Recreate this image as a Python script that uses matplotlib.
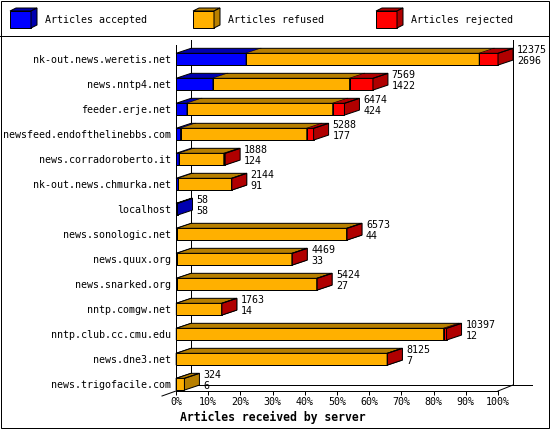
import numpy as np
import matplotlib
matplotlib.use('Agg')
import matplotlib.pyplot as plt
from matplotlib.patches import Polygon, Rectangle

plt.rcParams['font.family'] = ['DejaVu Sans Mono']

servers = ['nk-out.news.weretis.net', 'news.nntp4.net', 'feeder.erje.net',
           'newsfeed.endofthelinebbs.com', 'news.corradoroberto.it',
           'nk-out.news.chmurka.net', 'localhost', 'news.sonologic.net',
           'news.quux.org', 'news.snarked.org', 'nntp.comgw.net',
           'nntp.club.cc.cmu.edu', 'news.dne3.net', 'news.trigofacile.com']
accepted = [2696, 1422, 424, 177, 124, 91, 58, 44, 33, 27, 14, 12, 7, 6]
refused = [8959, 5250, 5600, 4851, 1714, 2045, 0, 6514, 4424, 5385, 1743, 10275, 8110, 318]
rejected = [720, 897, 450, 260, 50, 8, 0, 15, 12, 12, 6, 110, 8, 0]
x_ticks = [0, 10, 20, 30, 40, 50, 60, 70, 80, 90, 100]
legend_labels = ['Articles accepted', 'Articles refused', 'Articles rejected']

BLUE, BLUE_D = '#0000ff', '#0000b0'
ORANGE, ORANGE_D = '#ffb000', '#b88000'
RED, RED_D = '#ff0000', '#b00000'
LW = 0.72
FS = 7.2

# geometry of the fake 3d look (data units)
DX = 15 * 100 / 322   # depth offset along x
DY = 0.2              # depth offset along y
H = 0.47              # front face height
Y_BOT = 13.272
Y_TOP = -0.768

fig = plt.figure(figsize=(5.5, 4.3), dpi=100)

# pixel overlay for frame and legend
bg = fig.add_axes([0, 0, 1, 1])
bg.set_xlim(0, 550)
bg.set_ylim(430, 0)
bg.axis('off')
bg.add_patch(Rectangle((0.5, 0.5), 548.5, 427, fill=False, ec='black', lw=LW))
bg.plot([0, 550], [35.5, 35.5], color='black', lw=LW)

for x0, c, cd, lab in zip([10, 193, 376], [BLUE, ORANGE, RED],
                          [BLUE_D, ORANGE_D, RED_D], legend_labels):
    bg.add_patch(Rectangle((x0, 11), 21, 17, fc=c, ec='black', lw=LW))
    bg.add_patch(Polygon([(x0, 11), (x0 + 21, 11), (x0 + 27, 8), (x0 + 6, 8)],
                         fc=cd, ec='black', lw=LW))
    bg.add_patch(Polygon([(x0 + 21, 11), (x0 + 27, 8), (x0 + 27, 25), (x0 + 21, 28)],
                         fc=cd, ec='black', lw=LW))
    bg.text(x0 + 35, 20, lab, va='center', ha='left', fontsize=FS)

ax = fig.add_axes([176 / 550, 39 / 430, 322 / 550, 351 / 430])
ax.set_xlim(0, 100)
ax.set_ylim(Y_BOT, Y_TOP)
ax.patch.set_alpha(0)
for s in ax.spines.values():
    s.set_visible(False)

acc = np.array(accepted, dtype=float)
ref = np.array(refused, dtype=float)
rej = np.array(rejected, dtype=float)
totals = acc + ref + rej
scale = 100 / totals.max()
y = np.arange(len(servers))

# axis frame lines
line = dict(color='black', lw=LW, clip_on=False, zorder=1)
ax.plot([0, 0], [Y_BOT, -0.568], **line)
ax.plot([DX, DX], [Y_TOP, Y_BOT - 0.24], **line)
ax.plot([100 + DX, 100 + DX], [Y_TOP, Y_BOT - 0.24], **line)
ax.plot([0, 100], [Y_BOT, Y_BOT], **line)
ax.plot([DX, 100 + DX + 6], [Y_BOT - 0.24, Y_BOT - 0.24], **line)
ax.plot([100, 100 + DX], [Y_BOT, Y_BOT - 0.24], **line)
ax.plot([-14 * 100 / 322, 0], [Y_BOT + 0.2, Y_BOT], **line)

# stacked 3d bars
left = np.zeros(len(servers))
segments = [(acc, BLUE, BLUE_D), (ref, ORANGE, ORANGE_D), (rej, RED, RED_D)]
for k, (vals, c, cd) in enumerate(segments):
    w = vals * scale
    z = 3 + 2 * k
    m = w > 0
    bars = ax.barh(y[m], w[m], height=H, left=left[m], color=c, edgecolor='black',
                   linewidth=LW, zorder=z)
    for p in bars:
        p.set_clip_on(False)
    for yi, l, wi in zip(y[m], left[m], w[m]):
        t = yi - H / 2
        b = yi + H / 2
        ax.add_patch(Polygon([(l, t), (l + wi, t), (l + wi + DX, t - DY), (l + DX, t - DY)],
                             fc=cd, ec='none', zorder=z, clip_on=False))
        ax.add_patch(Polygon([(l + wi, t), (l + wi + DX, t - DY), (l + wi + DX, b - DY), (l + wi, b)],
                             fc=cd, ec='black', lw=LW, zorder=z + 1, clip_on=False))
    left = left + w

for yi, tot, a in zip(y, totals, acc):
    r = tot * scale
    t = yi - H / 2
    ax.add_patch(Polygon([(0, t), (r, t), (r + DX, t - DY), (DX, t - DY)],
                         fill=False, ec='black', lw=LW, zorder=20, clip_on=False))
    ax.text(r + DX + 1.2, yi - 0.36, f'{int(tot)}', va='center', ha='left',
            fontsize=FS, clip_on=False)
    ax.text(r + DX + 1.2, yi + 0.08, f'{int(a)}', va='center', ha='left',
            fontsize=FS, clip_on=False)

ax.set_xticks(x_ticks, labels=[f'{v}%' for v in x_ticks])
ax.tick_params(axis='x', direction='out', length=3, width=LW, pad=1.5, labelsize=FS)
ax.set_yticks(y, labels=servers)
ax.tick_params(axis='y', length=0, pad=3.6, labelsize=FS)

fig.text(180 / 550, 1 - 417 / 430, 'Articles received by server', ha='left',
         va='center', fontsize=8.3, fontweight='bold')

fig.savefig('out.png', dpi=100)
